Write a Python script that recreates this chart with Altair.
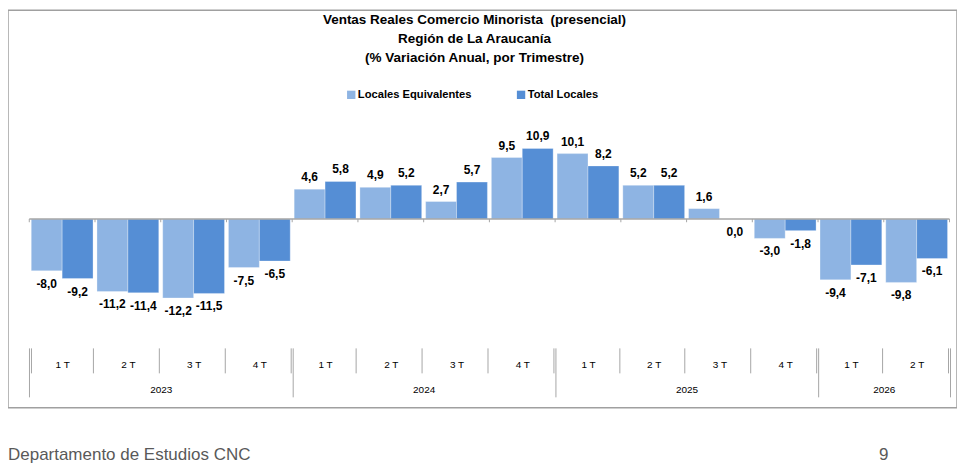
import altair as alt
import pandas as pd

# ---------------- data ----------------
years = ["2023", "2023", "2023", "2023", "2024", "2024", "2024", "2024",
         "2025", "2025", "2025", "2025", "2026", "2026"]
quarters = ["1 T", "2 T", "3 T", "4 T", "1 T", "2 T", "3 T", "4 T",
            "1 T", "2 T", "3 T", "4 T", "1 T", "2 T"]
locales_equivalentes = [-8.0, -11.2, -12.2, -7.5, 4.6, 4.9, 2.7, 9.5,
                        10.1, 5.2, 1.6, -3.0, -9.4, -9.8]
total_locales = [-9.2, -11.4, -11.5, -6.5, 5.8, 5.2, 5.7, 10.9,
                 8.2, 5.2, 0.0, -1.8, -7.1, -6.1]
series_names = ["Locales Equivalentes", "Total Locales"]
series_colors = ["#8EB4E3", "#558ED5"]
title_lines = ["Ventas Reales Comercio Minorista \u00a0(presencial)",
               "Región de La Araucanía",
               "(% Variación Anual, por Trimestre)"]
footer_left = ["Departamento de Estudios CNC"]
footer_right = ["9"]

# ---------------- tables ----------------
keys = [f"{y}|{q}" for y, q in zip(years, quarters)]
rows = []
for k, a, b in zip(keys, locales_equivalentes, total_locales):
    rows.append({"key": k, "serie": series_names[0], "v": a})
    rows.append({"key": k, "serie": series_names[1], "v": b})
df = pd.DataFrame(rows)

year_names = list(dict.fromkeys(years))
counts = [years.count(y) for y in year_names]
year_bounds = [0]
for c in counts:
    year_bounds.append(year_bounds[-1] + c)
year_centers = [year_bounds[i] + counts[i] / 2 for i in range(len(year_names))]
quarter_bounds = pd.DataFrame({"b": list(range(len(keys) + 1))})

F = "Liberation Sans Narrow, Liberation Sans, sans-serif"
GREY = "#A6A6A6"
XR = [21.3, 942.5]
YDOM = [-29.17, 32.25]

# ---------------- bars & labels ----------------
q_axis = alt.Axis(title=None, orient="bottom", offset=-60, domain=False, grid=False,
                  tickBand="extent", tickSize=25, tickColor=GREY, tickWidth=1,
                  labelAngle=0, labelBaseline="middle", labelPadding=-8,
                  labelExpr="split(datum.label, '|')[1]", labelFont=F,
                  labelFontSize=10, labelColor="#000000", labelOverlap=False)
x_band = alt.X("key:N", sort=keys,
               scale=alt.Scale(domain=keys, range=XR, paddingInner=0.06, paddingOuter=0.03),
               axis=q_axis)
x_off = alt.XOffset("serie:N", sort=series_names,
                    scale=alt.Scale(domain=series_names, paddingInner=0, paddingOuter=0))
y_enc = alt.Y("v:Q", scale=alt.Scale(domain=YDOM, nice=False, zero=False), axis=None)

bars = alt.Chart(df).mark_bar(stroke="#FFFFFF", strokeWidth=0.5, strokeOpacity=0.6).encode(
    x=x_band,
    xOffset=x_off,
    y=y_enc,
    color=alt.Color("serie:N",
                    scale=alt.Scale(domain=series_names, range=series_colors),
                    legend=alt.Legend(title=None, orient="none", legendX=338, legendY=79,
                                      direction="horizontal", symbolType="square",
                                      symbolSize=70, symbolStrokeWidth=0,
                                      labelFont=F, labelFontSize=11.2, labelFontWeight="bold",
                                      labelColor="#000000", labelOffset=1,
                                      columnPadding=44)),
)

lbl = alt.Chart(df).transform_calculate(
    lbl="replace(replace(format(datum.v, '.1f'), '.', ','), '\u2212', '-')"
)
pos_lbl = lbl.transform_filter("datum.v > 0").mark_text(
    dy=-12, baseline="middle", font=F, fontSize=12, fontWeight="bold", color="#000000"
).encode(x=x_band, xOffset=x_off, y=y_enc, text="lbl:N")
neg_lbl = lbl.transform_filter("datum.v <= 0").mark_text(
    dy=13, baseline="middle", font=F, fontSize=12, fontWeight="bold", color="#000000"
).encode(x=x_band, xOffset=x_off, y=y_enc, text="lbl:N")

main = alt.layer(bars, pos_lbl, neg_lbl)

# ---------------- year axis, zero line, footer ----------------
axis_vals = sorted(set(year_bounds + year_centers))
label_expr = " : ".join(
    [f"datum.value == {c} ? '{n}'" for c, n in zip(year_centers, year_names)]) + " : ''"
tick_test = "indexof([" + ",".join(str(b) for b in year_bounds) + "], datum.value) >= 0"
y_axis_year = alt.Axis(title=None, orient="bottom", offset=-60, domain=False, grid=False,
                       values=axis_vals, tickSize=49, tickColor=GREY, tickWidth=1,
                       tickOpacity={"condition": {"test": tick_test, "value": 1}, "value": 0},
                       labelExpr=label_expr, labelBaseline="middle", labelPadding=-7,
                       labelFlush=False, labelOverlap=False, labelFont=F,
                       labelFontSize=10, labelColor="#000000")
x_q_scale = alt.Scale(domain=[0, len(keys)], range=XR, nice=False, zero=False)

zero_ticks = alt.Chart(quarter_bounds).mark_rule(color=GREY, strokeWidth=1).encode(
    x=alt.X("b:Q", scale=x_q_scale, axis=y_axis_year),
    y=alt.datum(0),
    y2=alt.datum(-0.5),
)
zero_line = alt.Chart(quarter_bounds).mark_rule(color=GREY, strokeWidth=1.5).encode(
    x=alt.X("min(b):Q", scale=x_q_scale, axis=y_axis_year),
    x2=alt.X2("max(b)"),
    y=alt.datum(0),
)
foot_l = alt.Chart(pd.DataFrame({"t": footer_left})).mark_text(
    align="left", baseline="middle", font="Liberation Sans, Arial, sans-serif",
    fontSize=17, color="#595959"
).encode(x=alt.value(0), y=alt.value(445), text="t:N")
foot_r = alt.Chart(pd.DataFrame({"t": footer_right})).mark_text(
    align="left", baseline="middle", font="Liberation Sans, Arial, sans-serif",
    fontSize=17, color="#595959"
).encode(x=alt.value(872), y=alt.value(445), text="t:N")

extra = alt.layer(zero_line, zero_ticks, foot_l, foot_r)

chart = alt.layer(main, extra).resolve_scale(x="independent").properties(
    width=950,
    height=398,
    padding={"left": 0, "top": 2, "right": 0, "bottom": 60},
    autosize=alt.AutoSizeParams(type="none"),
    title=alt.TitleParams(text=title_lines, anchor="middle", font=F, fontSize=13.5,
                          fontWeight="bold", color="#000000", lineHeight=19,
                          offset=-54, dx=-8),
).configure_view(stroke="#A0A0A0", strokeWidth=1.5)

chart.save("out.html", embed_options={"renderer": "svg", "actions": False})
